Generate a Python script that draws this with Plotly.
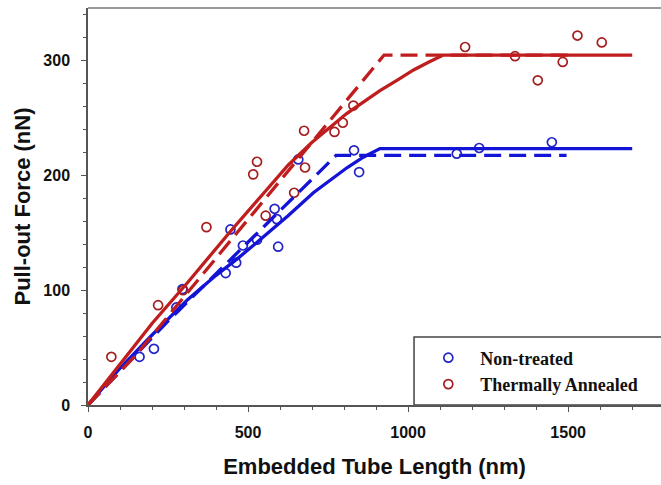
import plotly.graph_objects as go

# ---- data ----
nt_x = [161, 206, 276, 295, 430, 445, 463, 484, 528, 583, 590, 594, 657, 831, 847, 1152, 1222, 1449]
nt_y = [42, 49, 85, 101, 115, 153, 124, 139, 144, 171, 162, 138, 214, 222, 203, 219, 224, 229]

ta_x = [73, 219, 297, 370, 516, 528, 555, 644, 675, 678, 770, 796, 829, 1178, 1334, 1405, 1483, 1529, 1605]
ta_y = [42, 87, 100, 155, 201, 212, 165, 185, 239, 207, 238, 246, 261, 312, 304, 283, 299, 322, 316]

# fitted curves
nt_fit_x = [0, 100, 200, 312, 400, 469, 550, 625, 704, 760, 810, 860, 912, 1700]
nt_fit_y = [0, 32, 61, 92, 113, 128, 147, 165, 185, 197, 207, 216, 223.5, 223.5]
nt_lin_x = [0, 253, 775, 1495]
nt_lin_y = [0, 74, 217.5, 217.5]

ta_fit_x = [0, 100, 200, 312, 450, 550, 625, 700, 756, 808, 860, 912, 965, 1017, 1065, 1110, 1700]
ta_fit_y = [0, 36, 71, 107, 153, 185, 209, 229, 242, 254, 264, 274, 283, 292, 299, 305, 305]
ta_lin_x = [0, 148, 925, 1500]
ta_lin_y = [0, 43, 305, 305]

x_ticks = [0, 500, 1000, 1500]
y_ticks = [0, 100, 200, 300]

BLUE_L = "rgb(20,20,215)"
RED_L = "rgb(192,30,30)"
BLUE_M = "rgb(35,35,200)"
RED_M = "rgb(165,30,30)"

fig = go.Figure()
fig.add_trace(go.Scatter(x=nt_x, y=nt_y, mode="markers", name="Non-treated",
                         marker=dict(symbol="circle-open", size=9, color=BLUE_M, line=dict(width=1.7, color=BLUE_M))))
fig.add_trace(go.Scatter(x=ta_x, y=ta_y, mode="markers", name="Thermally Annealed",
                         marker=dict(symbol="circle-open", size=9, color=RED_M, line=dict(width=1.7, color=RED_M))))
fig.add_trace(go.Scatter(x=nt_fit_x, y=nt_fit_y, mode="lines", showlegend=False,
                         line=dict(color=BLUE_L, width=3.3)))
fig.add_trace(go.Scatter(x=nt_lin_x, y=nt_lin_y, mode="lines", showlegend=False,
                         line=dict(color=BLUE_L, width=3.3, dash="17px,8px")))
fig.add_trace(go.Scatter(x=ta_fit_x, y=ta_fit_y, mode="lines", showlegend=False,
                         line=dict(color=RED_L, width=3.3)))
fig.add_trace(go.Scatter(x=ta_lin_x, y=ta_lin_y, mode="lines", showlegend=False,
                         line=dict(color=RED_L, width=3.3, dash="17px,8px")))

tickfont = dict(family="Liberation Sans, Arial", size=16, color="#111", weight="bold")
titlefont = dict(family="Liberation Sans, Arial", size=22, color="#111", weight="bold")

fig.update_layout(
    width=661, height=485,
    margin=dict(l=88, r=0, t=8, b=80),
    paper_bgcolor="white", plot_bgcolor="white",
    xaxis=dict(range=[0, 1790], tickvals=x_ticks, ticks="outside", ticklen=5, tickwidth=1.3,
               tickcolor="#555", showline=True, linecolor="#555", linewidth=1.5, automargin=False,
               showgrid=False, zeroline=False, tickfont=tickfont, ticklabelstandoff=7,
               minor=dict(dtick=100, ticks="outside", ticklen=3, tickcolor="#555", tickwidth=1.2),
               title=dict(text="Embedded Tube Length (nm)", font=titlefont, standoff=19)),
    yaxis=dict(range=[0, 346], tickvals=y_ticks, ticks="outside", ticklen=5, tickwidth=1.3,
               tickcolor="#555", showline=True, linecolor="#555", linewidth=1.5, automargin=False,
               showgrid=False, zeroline=False, tickfont=tickfont, ticklabelstandoff=8,
               minor=dict(dtick=20, ticks="outside", ticklen=3, tickcolor="#555", tickwidth=1.2),
               title=dict(text="Pull-out Force (nN)", font=titlefont, standoff=7)),
    legend=dict(x=0.573, y=0.165, xanchor="left", yanchor="top",
                bgcolor="rgba(0,0,0,0)", borderwidth=0, itemwidth=54, tracegroupgap=0,
                font=dict(family="Liberation Serif, Times New Roman", size=18, color="#111", weight="bold")),
    shapes=[
        dict(type="rect", xref="paper", yref="paper", x0=0.569, x1=1.05, y0=0, y1=0.171,
             line=dict(color="#444", width=1.5), fillcolor="white", layer="below"),
        dict(type="line", xref="paper", yref="paper", x0=0, x1=1, y0=1, y1=1,
             line=dict(color="#777", width=1.5)),
    ],
)

fig.write_html("out.html", config={"displayModeBar": False},
               post_script="document.body.style.margin='0px';document.body.style.overflow='hidden';")
